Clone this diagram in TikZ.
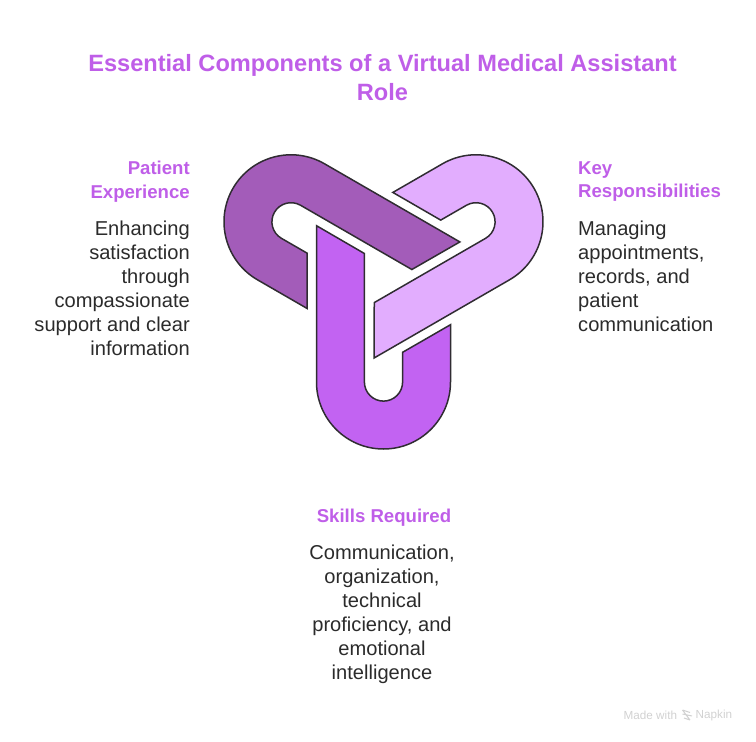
\documentclass[tikz,border=0pt]{standalone}
\usepackage{fontspec}
\setmainfont{Liberation Sans}
\definecolor{darkp}{HTML}{A35CB9}
\definecolor{midp}{HTML}{C263F2}
\definecolor{lightp}{HTML}{E2ADFE}
\definecolor{headp}{HTML}{BF5EE8}
\definecolor{bodyt}{HTML}{2B2B2B}
\definecolor{edge}{HTML}{302C32}
\tikzset{
  x=1pt,y=1pt,
  link/.style={draw=edge,line width=1.5pt,line join=miter},
  heading/.style={text=headp,font=\fontsize{18.6}{24}\selectfont\bfseries,inner sep=0pt},
  para/.style={text=bodyt,font=\fontsize{20.1}{24}\selectfont,inner sep=0pt},
  titletext/.style={text=headp,font=\fontsize{23.6}{29}\selectfont\bfseries,inner sep=0pt,align=center},
  credit/.style={text=black!18,font=\fontsize{11.7}{13}\selectfont,inner sep=0pt},
}
\newcommand{\linkshape}[2]{%
  \fill[#2,link,shift={(383.5,-275.2)},rotate=#1]
    (-67,49.5) -- (-19.1,21.7) -- (-19.1,-106.8)
    arc[start angle=180,end angle=360,radius=19.1]
    -- (19.1,-77.1) -- (67,-49.5) -- (67,-106.8)
    arc[start angle=0,end angle=-180,radius=67] -- cycle;}
\begin{document}
\begin{tikzpicture}
\useasboundingbox (0,0) rectangle (756,-742);
\linkshape{0}{midp}
\linkshape{120}{lightp}
\linkshape{240}{darkp}
\node[titletext,anchor=north] (title) at (382.5,-54.5) {Essential Components of a Virtual Medical Assistant\\Role};
\node[heading,anchor=north east,align=right] (h1) at (190,-161) {Patient\\Experience};
\node[para,anchor=north east,align=right] (b1) at (190,-221) {Enhancing\\satisfaction\\through\\compassionate\\support and clear\\information};
\node[heading,anchor=north west,align=left] (h2) at (578,-161) {Key\\Responsibilities};
\node[para,anchor=north west,align=left] (b2) at (578,-221) {Managing\\appointments,\\records, and\\patient\\communication};
\node[heading,anchor=north,align=center] (h3) at (384,-509) {Skills Required};
\node[para,anchor=north,align=center] (b3) at (382,-545) {Communication,\\organization,\\technical\\proficiency, and\\emotional\\intelligence};
\node[credit,anchor=west] (made) at (623.5,-715) {Made with};
\node[credit,anchor=west] (napkin) at (695.5,-715) {Napkin};
\draw[black!18,line width=1pt] (682.5,-710) -- (690,-712.5) (682.5,-714) -- (692,-716) (684,-718) -- (690,-720) (682.5,-710) -- (690,-720);
\end{tikzpicture}
\end{document}
